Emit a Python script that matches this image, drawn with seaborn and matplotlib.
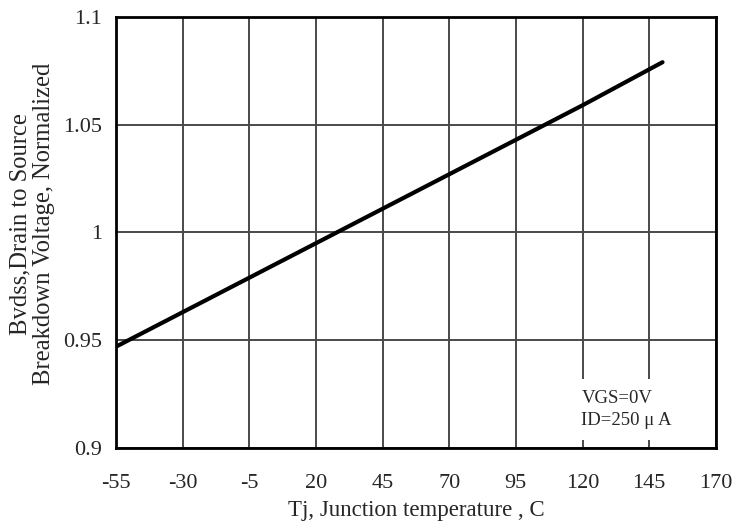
import numpy as np
import pandas as pd
import matplotlib
matplotlib.use("Agg")
import matplotlib.pyplot as plt
import seaborn as sns

# --- Data ---
TEMPS = [-55, -30, -5, 20, 45, 70, 95, 120, 150]
BVDSS = [0.947, 0.963, 0.979, 0.995, 1.011, 1.027, 1.043, 1.059, 1.079]
X_TICKS = [-55, -30, -5, 20, 45, 70, 95, 120, 145, 170]
Y_TICKS = [0.9, 0.95, 1.0, 1.05, 1.1]
Y_TICK_LABELS = ["0.9", "0.95", "1", "1.05", "1.1"]


def main():
    sns.set_style("white")
    plt.rcParams["font.family"] = ["Liberation Serif", "DejaVu Serif"]
    plt.rcParams["axes.unicode_minus"] = False

    df = pd.DataFrame({"Tj": TEMPS, "BV": BVDSS})

    fig = plt.figure(figsize=(7.38, 5.29), dpi=100)
    ax = fig.add_axes([0.157, 0.153, 0.813, 0.815])

    for x in X_TICKS:
        ax.axvline(x, color="#4a4a4a", lw=1.4, zorder=1)
    for y in Y_TICKS:
        ax.axhline(y, color="#4a4a4a", lw=1.4, zorder=1)

    sns.lineplot(data=df, x="Tj", y="BV", ax=ax, color="black", lw=3, zorder=3)

    ax.set_xlim(-55, 170)
    ax.set_ylim(0.9, 1.1)
    ax.set_xticks(X_TICKS)
    ax.set_yticks(Y_TICKS)
    ax.set_yticklabels(Y_TICK_LABELS)
    ax.tick_params(length=0, labelsize=16, pad=10)
    ax.tick_params(axis="x", pad=19)
    for s in ax.spines.values():
        s.set_color("black")
        s.set_linewidth(2)

    ax.set_xlabel("Tj, Junction temperature , C", fontsize=16.5, labelpad=5)
    ax.set_ylabel("Bvdss,Drain to Source\nBreakdown Voltage, Normalized",
                  fontsize=17.7, linespacing=1.12)
    ax.yaxis.set_label_coords(-0.101, 0.52)

    ax.text(119.6, 0.9088, "VGS=0V\nID=250 μ A", fontsize=13.5,
            linespacing=1.38, va="bottom", ha="left", zorder=4,
            bbox=dict(facecolor="white", edgecolor="none", pad=8))

    fig.savefig("out.png", dpi=100)


if __name__ == "__main__":
    main()
